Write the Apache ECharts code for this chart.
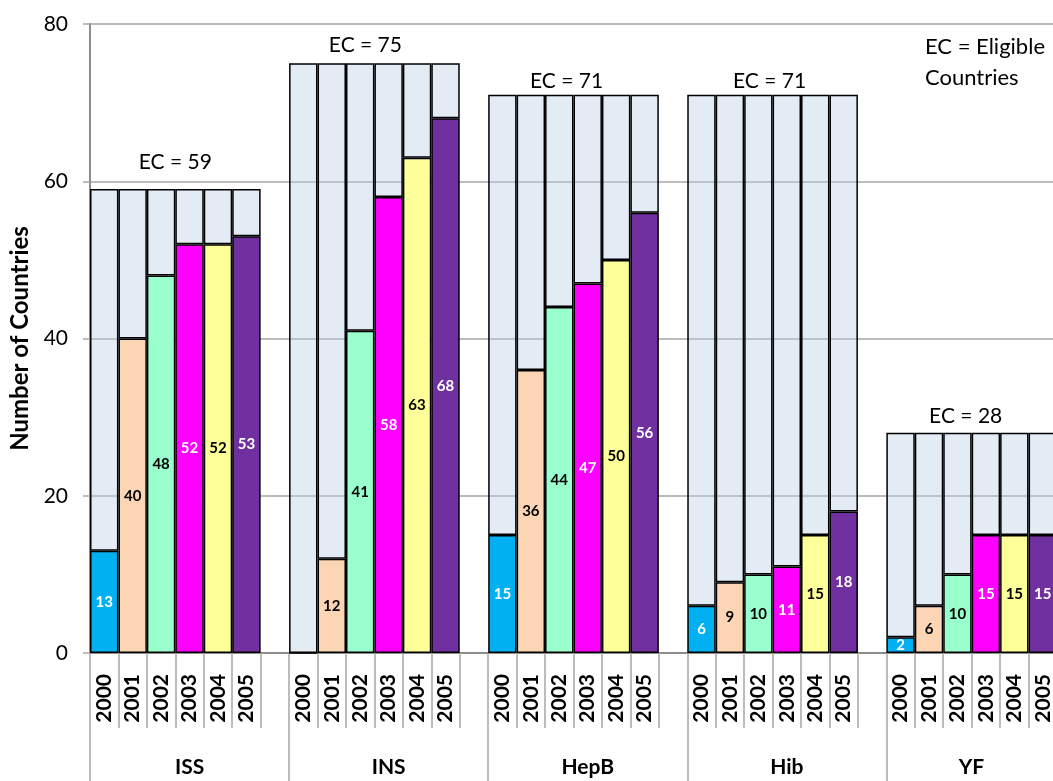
<!DOCTYPE html>
<html>
<head>
<meta charset="utf-8">
<script src="https://cdn.jsdelivr.net/npm/echarts@6/dist/echarts.min.js"></script>
<style>
html,body{margin:0;padding:0;background:#fff;overflow:hidden;}
#chart{width:1060px;height:781px;}
</style>
</head>
<body>
<div id="chart"></div>
<script>
// ---- data ----
const groups = ['ISS', 'INS', 'HepB', 'Hib', 'YF'];
const years = ['2000', '2001', '2002', '2003', '2004', '2005'];
const eligibleCountries = [59, 75, 71, 71, 28];
const issValues  = [13, 40, 48, 52, 52, 53];
const insValues  = [0, 12, 41, 58, 63, 68];
const hepbValues = [15, 36, 44, 47, 50, 56];
const hibValues  = [6, 9, 10, 11, 15, 18];
const yfValues   = [2, 6, 10, 15, 15, 15];
const yTicks = [0, 20, 40, 60, 80];

// ---- styles ----
const yearColors = ['#00B0F0', '#FCD5B4', '#99FFCC', '#FF00FF', '#FFFF99', '#7030A0'];
const labelColors = ['#FFFFFF', '#000000', '#000000', '#FFFFFF', '#000000', '#FFFFFF'];
const restColor = 'rgba(185,205,229,0.4)';
const gridGray = '#A6A6A6';
// placement of the hand-placed "EC = n" text boxes (pixel offsets)
const ecLabelOffsets = [[0, -16], [-9, -8], [-7, -3], [-3, -3], [-6, -6]];

const groupValues = [issValues, insValues, hepbValues, hibValues, yfValues];

const xYears = [];
const xGroups = [];
const valueData = [];
const restData = [];

groups.forEach((g, gi) => {
  const vals = groupValues[gi];
  const hasGap = gi < groups.length - 1;
  years.forEach((y, yi) => {
    xYears.push(y);
    valueData.push({
      value: vals[yi],
      itemStyle: { color: yearColors[yi] },
      label: { color: labelColors[yi] }
    });
    const rest = { value: eligibleCountries[gi] - vals[yi] };
    if (yi === 2) {
      rest.label = {
        show: true,
        formatter: 'EC = ' + eligibleCountries[gi],
        position: ['100%', 0],
        align: 'center',
        verticalAlign: 'bottom',
        offset: ecLabelOffsets[gi],
        fontSize: 21,
        color: '#000'
      };
    }
    restData.push(rest);
    // group label
    if (hasGap) {
      xGroups.push(yi === 3 ? g : '');
    } else {
      xGroups.push(yi === 2 ? { value: g, textStyle: { padding: [0, 0, 0, 28] } } : '');
    }
  });
  if (hasGap) {
    xYears.push('');
    xGroups.push('');
    valueData.push('-');
    restData.push('-');
  }
});

const chart = echarts.init(document.getElementById('chart'));
chart.setOption({
  animation: false,
  textStyle: { fontFamily: 'Lato' },
  grid: { left: 90, right: 3, top: 24, bottom: 128, containLabel: false, outerBoundsMode: 'none' },
  graphic: [{
    type: 'text',
    right: 15,
    top: 31,
    style: {
      text: 'EC = Eligible\nCountries',
      font: '22px Lato',
      fill: '#000',
      align: 'right',
      lineHeight: 31
    }
  }],
  xAxis: [{
    type: 'category',
    data: xYears,
    position: 'bottom',
    axisLine: { show: true, lineStyle: { color: '#8C8C8C', width: 2 } },
    axisTick: { show: true, interval: 0, length: 75, lineStyle: { color: gridGray, width: 1.5 } },
    axisLabel: { interval: 0, rotate: 90, margin: 21, fontSize: 21, fontWeight: 'bold', color: '#000' },
    splitLine: { show: false }
  }, {
    type: 'category',
    data: xGroups,
    position: 'bottom',
    axisLine: { show: false },
    axisTick: {
      show: true,
      length: 140,
      interval: (idx) => idx % 7 === 0,
      lineStyle: { color: gridGray, width: 1.5 }
    },
    axisLabel: { interval: 0, margin: 104, fontSize: 21, fontWeight: 'bold', color: '#000' },
    splitLine: { show: false }
  }],
  yAxis: {
    type: 'value',
    min: yTicks[0],
    max: yTicks[yTicks.length - 1],
    interval: yTicks[1] - yTicks[0],
    name: 'Number of Countries',
    nameLocation: 'middle',
    nameRotate: 90,
    nameGap: 58,
    nameTextStyle: { fontSize: 24, fontWeight: 'bold', color: '#000' },
    axisLine: { show: true, lineStyle: { color: '#8C8C8C', width: 2 } },
    axisTick: { show: true, length: 7, lineStyle: { color: gridGray, width: 1.5 } },
    axisLabel: { margin: 22, fontSize: 21, color: '#000' },
    splitLine: { show: true, lineStyle: { color: gridGray, width: 1.5 } }
  },
  series: [{
    type: 'bar',
    stack: 'total',
    barCategoryGap: 0,
    data: valueData,
    itemStyle: { borderColor: '#000', borderWidth: 1.5 },
    label: {
      show: true,
      position: 'inside',
      fontSize: 15,
      fontWeight: 'bold',
      formatter: (p) => (p.value ? p.value : '')
    }
  }, {
    type: 'bar',
    stack: 'total',
    barCategoryGap: 0,
    data: restData,
    itemStyle: { color: restColor, borderColor: '#000', borderWidth: 1.5 },
    label: { show: false }
  }]
});
</script>
</body>
</html>
